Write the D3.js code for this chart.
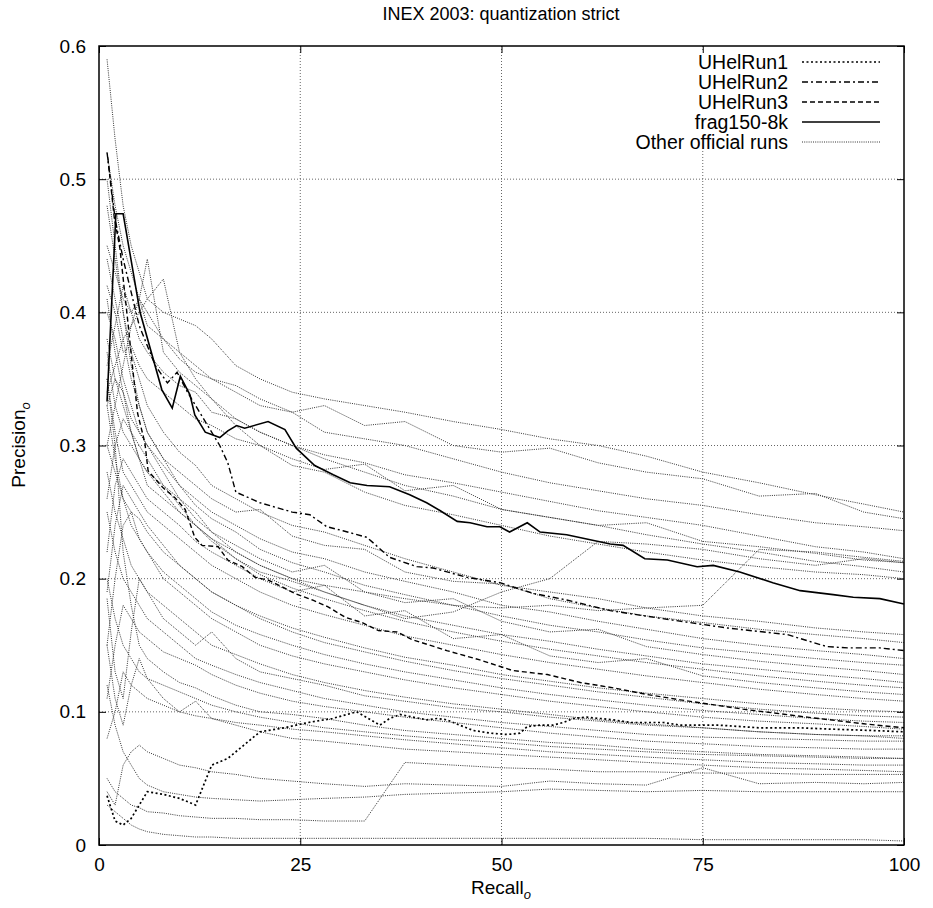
<!DOCTYPE html>
<html><head><meta charset="utf-8">
<script src="https://cdn.jsdelivr.net/npm/d3@7"></script>
<style>body{margin:0;background:#fff}svg{display:block}text{font-family:"Liberation Sans",Arial,sans-serif}</style>
</head><body><svg id="c" width="933" height="908"></svg>
<script>
const title = "INEX 2003: quantization strict";
const xTicks = [0, 25, 50, 75, 100];
const yTicks = [0, 0.1, 0.2, 0.3, 0.4, 0.5, 0.6];
const legendNames = ["UHelRun1", "UHelRun2", "UHelRun3", "frag150-8k", "Other official runs"];

const fragR = [1,2.1,3,5.1,7.8,9.1,10.1,11.3,11.9,13.2,15,16,17.1,18.1,21,23.1,24.5,26.8,29.1,31.2,33.3,36.1,38.6,40.7,42.4,44.5,46.1,48.2,49.8,51,53.2,54.8,58.1,63.5,65.1,67.8,70.6,74.3,76.3,79.6,83.7,87.1,91.2,93.7,97,100];
const fragP = [0.333,0.474,0.474,0.40,0.342,0.328,0.352,0.338,0.323,0.310,0.306,0.311,0.315,0.313,0.318,0.312,0.298,0.285,0.278,0.272,0.270,0.269,0.263,0.257,0.251,0.243,0.242,0.239,0.239,0.235,0.242,0.235,0.233,0.226,0.225,0.215,0.214,0.209,0.210,0.205,0.197,0.191,0.188,0.186,0.185,0.181];

const run2R = [1,2,3,5,7,8.5,9.7,11,13,15,16,17,20,24,26.2,28.3,30.3,33.3,36.1,39.5,41.5,45.7,49.8,53.9,58.1,63.5,70,78,85.5,90.4,93,97,100];
const run2P = [0.52,0.47,0.44,0.39,0.36,0.347,0.355,0.34,0.32,0.30,0.287,0.265,0.257,0.25,0.248,0.239,0.236,0.231,0.216,0.209,0.208,0.201,0.197,0.189,0.184,0.176,0.170,0.163,0.158,0.149,0.148,0.148,0.146];

const run3R = [1.1,1.9,2.6,3.6,4.2,4.8,5.7,6.1,8,9.4,10.7,11.9,12.8,14.8,16,17.8,19.4,21,22.7,24.3,26.5,28.4,30.6,32.7,34.7,37,39,43.2,47.3,51.4,55.7,59.8,63.9,68.1,72.2,80,88,95,100];
const run3P = [0.516,0.471,0.448,0.392,0.357,0.324,0.302,0.281,0.268,0.261,0.252,0.231,0.225,0.224,0.214,0.209,0.201,0.199,0.194,0.189,0.184,0.179,0.171,0.167,0.161,0.160,0.154,0.146,0.139,0.131,0.128,0.122,0.118,0.113,0.109,0.102,0.096,0.091,0.088];

const run1R = [1,2,3,4,5,6,8,10,12,13,14,16,18,20,23,26,29,32,34.9,36.1,37.4,39,40.7,42,43.2,44.8,46.5,48.6,50.7,52.3,53.2,54.8,56.4,57.7,58.9,60.6,62.2,63.9,66,68.1,70.1,72.2,77,82,87,91,96,100];
const run1P = [0.037,0.018,0.015,0.02,0.03,0.04,0.038,0.035,0.03,0.045,0.06,0.065,0.075,0.085,0.088,0.092,0.095,0.10,0.090,0.095,0.098,0.096,0.094,0.095,0.094,0.090,0.086,0.084,0.083,0.084,0.089,0.090,0.090,0.092,0.095,0.096,0.095,0.094,0.092,0.092,0.092,0.090,0.090,0.088,0.088,0.087,0.086,0.085];

const otherR = [1,2,3,4,5,6,8,10,12,14,17,20,24,28,33,38,44,50,56,62,68,75,82,89,95,100];
const o1 = [0.59,0.53,0.48,0.45,0.43,0.41,0.40,0.395,0.39,0.38,0.36,0.35,0.34,0.335,0.33,0.325,0.318,0.312,0.305,0.300,0.292,0.280,0.272,0.263,0.256,0.250];
const o2 = [0.45,0.43,0.41,0.40,0.41,0.39,0.38,0.37,0.36,0.35,0.345,0.335,0.325,0.33,0.315,0.318,0.30,0.295,0.298,0.287,0.28,0.275,0.262,0.264,0.25,0.245];
const o3 = [0.52,0.48,0.45,0.43,0.41,0.40,0.38,0.365,0.355,0.35,0.34,0.33,0.325,0.31,0.305,0.30,0.29,0.28,0.272,0.266,0.26,0.255,0.248,0.242,0.239,0.236];
const o4 = [0.36,0.39,0.42,0.40,0.38,0.37,0.355,0.345,0.34,0.325,0.32,0.31,0.30,0.293,0.287,0.278,0.272,0.265,0.258,0.251,0.246,0.24,0.232,0.224,0.22,0.215];
const o5 = [0.42,0.40,0.37,0.375,0.36,0.35,0.34,0.33,0.32,0.315,0.305,0.30,0.29,0.282,0.286,0.266,0.27,0.252,0.246,0.24,0.242,0.228,0.224,0.219,0.214,0.212];
const o6 = [0.30,0.33,0.36,0.39,0.41,0.44,0.37,0.355,0.345,0.335,0.32,0.31,0.30,0.29,0.28,0.27,0.262,0.252,0.246,0.24,0.233,0.226,0.22,0.213,0.209,0.205];
const o7 = [0.34,0.36,0.38,0.39,0.40,0.41,0.425,0.37,0.35,0.335,0.315,0.30,0.285,0.28,0.265,0.255,0.248,0.24,0.232,0.226,0.22,0.214,0.209,0.205,0.203,0.200];
const o8 = [0.40,0.38,0.35,0.33,0.31,0.30,0.28,0.26,0.25,0.235,0.22,0.21,0.20,0.19,0.18,0.17,0.175,0.19,0.20,0.228,0.226,0.222,0.215,0.21,0.215,0.212];
const o9 = [0.48,0.44,0.40,0.37,0.35,0.33,0.31,0.295,0.285,0.27,0.26,0.25,0.24,0.235,0.225,0.215,0.205,0.195,0.19,0.185,0.178,0.172,0.168,0.163,0.16,0.158];
const o10 = [0.44,0.41,0.38,0.35,0.33,0.31,0.29,0.28,0.27,0.26,0.25,0.252,0.232,0.225,0.222,0.205,0.198,0.196,0.185,0.178,0.172,0.167,0.162,0.158,0.155,0.152];
const o11 = [0.33,0.35,0.34,0.32,0.31,0.30,0.285,0.27,0.26,0.25,0.24,0.23,0.22,0.215,0.205,0.198,0.19,0.18,0.175,0.168,0.162,0.155,0.15,0.146,0.143,0.140];
const o12 = [0.50,0.45,0.40,0.36,0.33,0.31,0.29,0.27,0.255,0.245,0.235,0.222,0.212,0.205,0.195,0.188,0.18,0.172,0.165,0.16,0.154,0.148,0.144,0.14,0.137,0.135];
const o13 = [0.37,0.33,0.31,0.30,0.29,0.28,0.27,0.26,0.245,0.235,0.225,0.215,0.205,0.21,0.19,0.182,0.185,0.168,0.16,0.162,0.149,0.143,0.138,0.134,0.131,0.128];
const o14 = [0.26,0.30,0.32,0.31,0.29,0.27,0.26,0.25,0.24,0.23,0.215,0.205,0.198,0.19,0.18,0.172,0.165,0.158,0.153,0.147,0.142,0.136,0.132,0.128,0.125,0.122];
const o15 = [0.41,0.37,0.34,0.31,0.29,0.28,0.265,0.25,0.24,0.228,0.215,0.203,0.193,0.185,0.176,0.168,0.16,0.153,0.147,0.142,0.137,0.132,0.127,0.123,0.12,0.118];
const o16 = [0.22,0.27,0.29,0.28,0.27,0.26,0.25,0.24,0.228,0.22,0.21,0.2,0.19,0.195,0.172,0.176,0.155,0.158,0.142,0.137,0.14,0.127,0.122,0.118,0.115,0.113];
const o17 = [0.35,0.31,0.28,0.27,0.26,0.25,0.24,0.23,0.22,0.21,0.2,0.19,0.18,0.173,0.165,0.157,0.15,0.143,0.137,0.132,0.127,0.122,0.117,0.113,0.11,0.108];
const o18 = [0.30,0.28,0.26,0.25,0.245,0.235,0.22,0.21,0.2,0.19,0.18,0.172,0.163,0.156,0.148,0.141,0.135,0.128,0.123,0.118,0.114,0.11,0.106,0.103,0.101,0.100];
const o19 = [0.19,0.24,0.27,0.26,0.25,0.24,0.225,0.21,0.2,0.19,0.18,0.17,0.16,0.152,0.145,0.138,0.131,0.125,0.12,0.115,0.111,0.106,0.102,0.099,0.097,0.096];
const o20 = [0.33,0.29,0.26,0.24,0.23,0.22,0.205,0.195,0.185,0.175,0.165,0.158,0.15,0.143,0.136,0.13,0.124,0.118,0.113,0.109,0.105,0.101,0.098,0.095,0.093,0.092];
const o21 = [0.15,0.2,0.24,0.25,0.23,0.22,0.2,0.19,0.18,0.17,0.16,0.15,0.142,0.136,0.13,0.124,0.118,0.113,0.108,0.104,0.1,0.096,0.093,0.091,0.089,0.087];
const o22 = [0.28,0.25,0.23,0.21,0.2,0.19,0.18,0.17,0.16,0.15,0.143,0.136,0.128,0.122,0.116,0.111,0.106,0.102,0.098,0.094,0.091,0.088,0.085,0.083,0.082,0.082];
const o23 = [0.25,0.22,0.2,0.19,0.18,0.17,0.16,0.15,0.14,0.135,0.128,0.122,0.116,0.11,0.105,0.1,0.096,0.092,0.089,0.086,0.083,0.081,0.08,0.079,0.078,0.078];
const o24 = [0.11,0.15,0.18,0.17,0.16,0.155,0.145,0.14,0.135,0.128,0.12,0.114,0.108,0.104,0.1,0.096,0.092,0.088,0.084,0.081,0.078,0.076,0.074,0.073,0.072,0.072];
const o25 = [0.2,0.17,0.15,0.14,0.13,0.125,0.12,0.115,0.11,0.105,0.1,0.096,0.092,0.088,0.085,0.082,0.079,0.077,0.074,0.072,0.07,0.068,0.067,0.066,0.065,0.065];
const o26 = [0.08,0.1,0.13,0.12,0.115,0.11,0.105,0.1,0.097,0.095,0.092,0.09,0.087,0.085,0.082,0.079,0.076,0.073,0.07,0.068,0.066,0.064,0.062,0.061,0.06,0.06];
const o27 = [0.05,0.04,0.035,0.03,0.028,0.025,0.024,0.022,0.021,0.02,0.02,0.019,0.019,0.018,0.018,0.062,0.06,0.058,0.057,0.055,0.055,0.054,0.054,0.053,0.053,0.053];
const o28 = [0.04,0.03,0.06,0.07,0.075,0.07,0.065,0.06,0.058,0.055,0.053,0.05,0.048,0.046,0.044,0.046,0.045,0.044,0.048,0.046,0.045,0.058,0.046,0.047,0.046,0.047];
const o29 = [0.12,0.09,0.07,0.06,0.05,0.045,0.04,0.038,0.036,0.035,0.034,0.033,0.034,0.035,0.036,0.038,0.039,0.04,0.042,0.041,0.04,0.041,0.04,0.04,0.04,0.04];
const o30 = [0.03,0.025,0.02,0.015,0.012,0.01,0.008,0.007,0.006,0.006,0.005,0.005,0.005,0.005,0.005,0.005,0.005,0.005,0.005,0.005,0.005,0.004,0.004,0.004,0.004,0.003];
const o31 = [0.185,0.13,0.11,0.16,0.2,0.19,0.17,0.16,0.15,0.16,0.14,0.13,0.125,0.12,0.112,0.108,0.103,0.1,0.096,0.093,0.09,0.088,0.085,0.083,0.082,0.08];
const o32 = [0.15,0.11,0.09,0.12,0.14,0.125,0.11,0.1,0.108,0.095,0.09,0.085,0.08,0.078,0.075,0.072,0.07,0.068,0.066,0.064,0.062,0.06,0.058,0.057,0.056,0.055];
const o33 = [0.35,0.30,0.22,0.18,0.15,0.14,0.13,0.122,0.118,0.112,0.105,0.10,0.098,0.095,0.09,0.086,0.083,0.08,0.077,0.075,0.072,0.07,0.068,0.067,0.066,0.065];
const o34 = [0.38,0.35,0.33,0.31,0.30,0.29,0.27,0.255,0.24,0.23,0.22,0.21,0.20,0.195,0.19,0.185,0.18,0.178,0.18,0.176,0.178,0.18,0.222,0.22,0.216,0.213];
const others = [o1,o2,o3,o4,o5,o6,o7,o8,o9,o10,o11,o12,o13,o14,o15,o16,o17,o18,o19,o20,o21,o22,o23,o24,o25,o26,o27,o28,o29,o30,o31,o32,o33,o34];

const svg = d3.select("#c");
const L = 99, R = 904, T = 46, B = 845;
const FONT = '"Liberation Sans", Arial, sans-serif';
const x = d3.scaleLinear().domain([0, 100]).range([L, R]);
const y = d3.scaleLinear().domain([0, 0.6]).range([B, T]);

// grid
const g = svg.append("g");
g.selectAll(".gx").data(xTicks.slice(1, -1)).enter().append("line")
  .attr("x1", d => x(d)).attr("x2", d => x(d)).attr("y1", T).attr("y2", B)
  .attr("stroke", "#666").attr("stroke-width", 1).attr("stroke-dasharray", "1,2");
g.selectAll(".gy").data(yTicks.slice(1, -1)).enter().append("line")
  .attr("y1", d => y(d)).attr("y2", d => y(d)).attr("x1", L).attr("x2", R)
  .attr("stroke", "#666").attr("stroke-width", 1).attr("stroke-dasharray", "1,2");
// key area keeps the grid clear
svg.append("rect").attr("x", 630).attr("y", 50).attr("width", 270).attr("height", 100).attr("fill", "#fff");

const line = d3.line().x(d => x(d[0])).y(d => y(d[1]));
const zip = (a, b) => a.map((v, i) => [v, b[i]]);

// other runs
others.forEach(vals => {
  svg.append("path").datum(zip(otherR, vals)).attr("d", line)
    .attr("fill", "none").attr("stroke", "#333").attr("stroke-width", 1)
    .attr("stroke-dasharray", "1,1.2");
});

const styles = [
  {r: run1R, p: run1P, dash: "2,2.5", w: 1.7},
  {r: run2R, p: run2P, dash: "6,3,2,3", w: 1.4},
  {r: run3R, p: run3P, dash: "5,3", w: 1.4},
  {r: fragR, p: fragP, dash: null, w: 1.6}
];
styles.forEach(s => {
  svg.append("path").datum(zip(s.r, s.p)).attr("d", line)
    .attr("fill", "none").attr("stroke", "#000").attr("stroke-width", s.w)
    .attr("stroke-dasharray", s.dash);
});

// frame
svg.append("rect").attr("x", L).attr("y", T).attr("width", R - L).attr("height", B - T)
  .attr("fill", "none").attr("stroke", "#000").attr("stroke-width", 1.5);

// axes
const xa = svg.append("g").attr("transform", `translate(0,${B})`)
  .call(d3.axisBottom(x).tickValues(xTicks).tickSize(-7).tickPadding(13).tickFormat(d3.format("d")));
const xa2 = svg.append("g").attr("transform", `translate(0,${T})`)
  .call(d3.axisTop(x).tickValues(xTicks).tickSize(-7).tickFormat(""));
const ya = svg.append("g").attr("transform", `translate(${L},0)`)
  .call(d3.axisLeft(y).tickValues(yTicks).tickSize(-7).tickPadding(13).tickFormat(d => d === 0 ? "0" : d3.format(".1f")(d)));
const ya2 = svg.append("g").attr("transform", `translate(${R},0)`)
  .call(d3.axisRight(y).tickValues(yTicks).tickSize(-7).tickFormat(""));
[xa, xa2, ya, ya2].forEach(a => {
  a.select(".domain").remove();
  a.selectAll(".tick line").attr("stroke", "#000");
  a.selectAll("text").attr("font-size", 19).attr("fill", "#000").style("font-family", FONT);
});

// title and labels
svg.append("text").attr("x", 501).attr("y", 20).attr("text-anchor", "middle")
  .attr("font-size", 18).text(title);
const xl = svg.append("text").attr("x", 501).attr("y", 894).attr("text-anchor", "middle").attr("font-size", 19);
xl.append("tspan").text("Recall");
xl.append("tspan").attr("font-size", 13).attr("font-style", "italic").attr("dy", 5).text("o");
const yl = svg.append("text").attr("transform", "translate(25,445) rotate(-90)").attr("text-anchor", "middle").attr("font-size", 19);
yl.append("tspan").text("Precision");
yl.append("tspan").attr("font-size", 13).attr("font-style", "italic").attr("dy", 5).text("o");

// legend
const legStyles = [
  {dash: "2,2.5", w: 1.7, c: "#000"},
  {dash: "6,3,2,3", w: 1.4, c: "#000"},
  {dash: "5,3", w: 1.4, c: "#000"},
  {dash: null, w: 1.6, c: "#000"},
  {dash: "1,1.2", w: 1, c: "#333"}
];
legendNames.forEach((name, i) => {
  const yy = 62 + i * 20;
  svg.append("text").attr("x", 788).attr("y", yy + 7).attr("text-anchor", "end")
    .attr("font-size", 19.5).text(name);
  svg.append("line").attr("x1", 802).attr("x2", 880).attr("y1", yy).attr("y2", yy)
    .attr("stroke", legStyles[i].c).attr("stroke-width", legStyles[i].w)
    .attr("stroke-dasharray", legStyles[i].dash);
});
</script></body></html>
